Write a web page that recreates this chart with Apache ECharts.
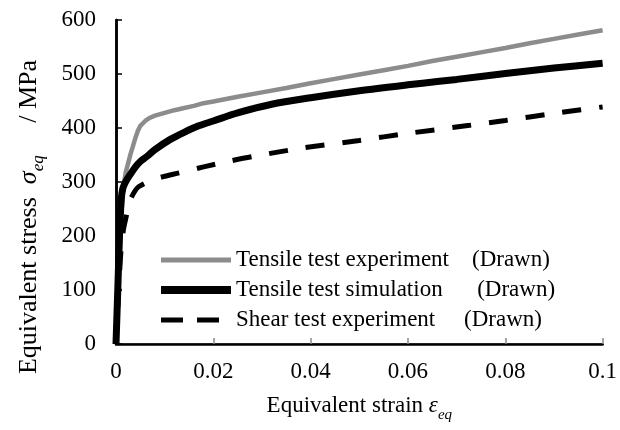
<!DOCTYPE html>
<html>
<head>
<meta charset="utf-8">
<script src="https://cdn.jsdelivr.net/npm/echarts@6/dist/echarts.min.js"></script>
<style>
  html, body { margin: 0; padding: 0; background: #fff; }
  #main { width: 620px; height: 430px; }
</style>
</head>
<body>
<div id="main"></div>
<script>
// tensile test experiment (gray)
var expStrain = [0, 0.0005, 0.001, 0.0015, 0.002, 0.0025, 0.003, 0.0035, 0.004, 0.0045, 0.005, 0.006, 0.007, 0.008, 0.01, 0.012, 0.014, 0.016, 0.018,
    0.02, 0.025, 0.03, 0.035, 0.04, 0.045, 0.05, 0.055, 0.06, 0.065, 0.07, 0.075, 0.08, 0.085, 0.09, 0.095, 0.1];
var expStress = [0, 120, 230, 290, 318, 335, 352, 367, 382, 395, 404, 413, 419, 423, 428, 433, 437, 441, 446,
    449, 458, 466, 474, 483, 491, 499, 507, 515, 524, 532, 540, 548, 557, 565, 573, 581];

// tensile test simulation (black)
var simStrain = [0, 0.0004, 0.0008, 0.0011, 0.0014, 0.0018, 0.0022, 0.003, 0.004, 0.005, 0.0063, 0.008, 0.011, 0.014, 0.017, 0.02, 0.025, 0.032, 0.04, 0.05, 0.06, 0.066, 0.07, 0.08, 0.09, 0.1];
var simStress = [0, 110, 220, 270, 288, 297, 304, 315, 328, 338, 347, 360, 378, 392, 404, 413, 428, 444, 456, 469, 480, 486, 490, 501, 511, 520];

// shear test experiment (dashed)
var shearStrain = [0, 0.0005, 0.001, 0.0015, 0.002, 0.0025, 0.003, 0.0038, 0.0046, 0.006, 0.0075, 0.0097, 0.013, 0.018, 0.023, 0.028, 0.0384, 0.05, 0.06, 0.0727, 0.08, 0.09, 0.1];
var shearStress = [0, 90, 170, 210, 232, 252, 268, 282, 291, 298, 304, 310, 317, 328, 338, 347, 363, 377, 390, 405, 414, 427, 439];

var seriesNames = ['Tensile test experiment    (Drawn)', 'Tensile test simulation      (Drawn)', 'Shear test experiment     (Drawn)'];

function pairs(xs, ys) {
    var out = [];
    for (var i = 0; i < xs.length; i++) out.push([xs[i], ys[i]]);
    return out;
}

var FONT = 'Liberation Serif';
var myChart = echarts.init(document.getElementById('main'));

var option = {
    animation: false,
    textStyle: { fontFamily: FONT, color: '#000' },
    grid: { left: 116, right: 17, top: 20, bottom: 86, containLabel: false },
    legend: {
        orient: 'vertical',
        left: 157,
        top: 248,
        padding: 0,
        itemWidth: 70,
        itemHeight: 14,
        itemGap: 6,
        textStyle: { fontFamily: FONT, fontSize: 23, color: '#000', lineHeight: 24 },
        data: [
            { name: seriesNames[0], itemStyle: { opacity: 0 }, lineStyle: { width: 5, color: '#8c8c8c', type: 'solid' } },
            { name: seriesNames[1], itemStyle: { opacity: 0 }, lineStyle: { width: 8, color: '#000', type: 'solid' } },
            { name: seriesNames[2], itemStyle: { opacity: 0 }, lineStyle: { width: 5, color: '#000', type: [22, 14] } }
        ]
    },
    xAxis: [{
        type: 'value',
        min: 0,
        max: 0.1,
        interval: 0.02,
        name: '{n|Equivalent strain }{s|ε}{sub|eq}',
        nameLocation: 'middle',
        nameGap: 49,
        nameTextStyle: {
            fontFamily: FONT,
            rich: {
                n: { fontFamily: FONT, fontSize: 23, fontStyle: 'normal', color: '#000', lineHeight: 26 },
                s: { fontFamily: FONT, fontSize: 23, fontStyle: 'italic', color: '#000', lineHeight: 26 },
                sub: { fontFamily: FONT, fontSize: 15, fontStyle: 'italic', color: '#000', lineHeight: 26, verticalAlign: 'bottom', padding: [0, 0, -4, 0] }
            }
        },
        axisLine: { show: true, lineStyle: { color: '#8a8a8a', width: 2 } },
        axisTick: { show: true, inside: true, length: 6, lineStyle: { color: '#8a8a8a', width: 1.5 } },
        axisLabel: { margin: 16, fontFamily: FONT, fontSize: 23, color: '#000' },
        splitLine: { show: false }
    }, {
        type: 'value',
        position: 'top',
        min: 0,
        max: 0.1,
        axisLine: { show: true, lineStyle: { color: '#000', width: 2.5 } },
        axisTick: { show: false },
        axisLabel: { show: false },
        splitLine: { show: false }
    }],
    yAxis: [{
        type: 'value',
        min: 0,
        max: 600,
        interval: 100,
        name: '{n|Equivalent stress  }{s|σ}{sub|eq}{n|     / MPa}',
        nameLocation: 'middle',
        nameRotate: 90,
        nameGap: 73,
        nameTextStyle: {
            fontFamily: FONT,
            padding: [0, 70, 0, 0],
            rich: {
                n: { fontFamily: FONT, fontSize: 26, fontStyle: 'normal', color: '#000', lineHeight: 28 },
                s: { fontFamily: FONT, fontSize: 26, fontStyle: 'italic', color: '#000', lineHeight: 28 },
                sub: { fontFamily: FONT, fontSize: 17, fontStyle: 'italic', color: '#000', lineHeight: 28, verticalAlign: 'bottom', padding: [0, 0, -4, 0] }
            }
        },
        axisLine: { show: true, lineStyle: { color: '#000', width: 2.5 } },
        axisTick: { show: true, inside: true, length: 6, lineStyle: { color: '#000', width: 1.5 } },
        axisLabel: { margin: 20, fontFamily: FONT, fontSize: 23, color: '#000' },
        splitLine: { show: false }
    }, {
        type: 'value',
        position: 'right',
        min: 0,
        max: 600,
        axisLine: { show: true, lineStyle: { color: '#000', width: 2.5 } },
        axisTick: { show: false },
        axisLabel: { show: false },
        splitLine: { show: false }
    }],
    series: [
        {
            name: seriesNames[0],
            type: 'line',
            symbol: 'none',
            data: pairs(expStrain, expStress),
            lineStyle: { color: '#8c8c8c', width: 4.5 },
            itemStyle: { color: '#8c8c8c' }
        },
        {
            name: seriesNames[1],
            type: 'line',
            symbol: 'none',
            smooth: 0.3,
            data: pairs(simStrain, simStress),
            lineStyle: { color: '#000', width: 7 },
            itemStyle: { color: '#000' }
        },
        {
            name: seriesNames[2],
            type: 'line',
            symbol: 'none',
            smooth: 0.3,
            data: pairs(shearStrain, shearStress),
            lineStyle: { color: '#000', width: 5, type: [19, 18] },
            itemStyle: { color: '#000' }
        }
    ]
};

myChart.setOption(option);
</script>
</body>
</html>
